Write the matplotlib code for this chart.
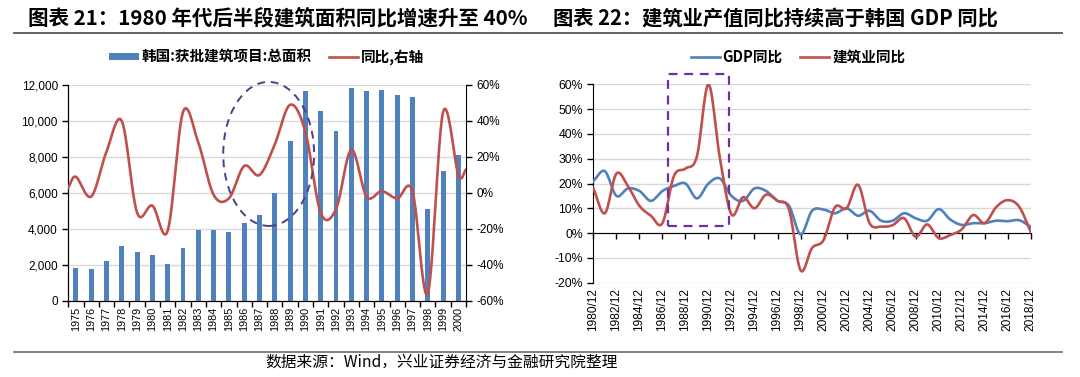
import matplotlib
matplotlib.use('Agg')
import matplotlib.pyplot as plt
import numpy as np
from matplotlib.patches import Ellipse, Rectangle
from matplotlib.ticker import FuncFormatter, MultipleLocator

plt.rcParams['font.family'] = ['Liberation Sans', 'Noto Sans CJK SC', 'DejaVu Sans']
plt.rcParams['axes.unicode_minus'] = False
CJK = ['Noto Sans CJK SC', 'DejaVu Sans']

# 左图: 韩国获批建筑项目总面积 与 同比
years_l = [str(y) for y in range(1975, 2001)]
area = [1820, 1780, 2220, 3070, 2720, 2560, 2080, 2930, 3950, 3950, 3820, 4350,
        4800, 5980, 8890, 11650, 10540, 9460, 11810, 11650, 11740, 11430, 11330,
        5110, 7240, 8110]
area_yoy = [9, -2, 23, 40, -11, -7, -21, 45, 28, -1, -3, 15, 10, 27, 49, 34,
            -11, -9, 24, -2, 1, -3, 1, -56, 45, 10]
yoy_edge = [3, 13]  # 线在两端轴线处的值

# 右图: GDP同比 与 建筑业同比
years_r = list(range(1980, 2019))
gdp_yoy = [21, 25, 15, 18, 17, 13, 17, 19, 20, 14, 20, 22, 15, 13, 18, 17, 13,
           11, -0.5, 9, 9.5, 8, 10, 7, 9, 5, 5, 8, 6, 5, 9.7, 5.5, 3.3, 4, 4,
           5, 4.8, 5.2, 2.5]
cons_yoy = [18, 8, 24, 19, 11, 7, 4, 23, 26, 31, 60, 30, 7.5, 14.5, 10, 15.5,
            13, 9.5, -15, -6, -2.8, 10.5, 10, 19.5, 4, 2.6, 3.2, 6, -1.5, 3.5,
            -2, -0.8, 1.5, 7.3, 4, 10.5, 13.3, 10.6, 0.5]

BLUE = '#4F81BD'
RED = '#C0504D'


def smooth(x, y, n=12):
    # Excel 平滑线: Catmull-Rom 曲线
    x = np.asarray(x, float)
    y = np.asarray(y, float)
    px = np.concatenate([[2 * x[0] - x[1]], x, [2 * x[-1] - x[-2]]])
    py = np.concatenate([[2 * y[0] - y[1]], y, [2 * y[-1] - y[-2]]])
    xs, ys = [], []
    t = np.linspace(0, 1, n, endpoint=False)
    for i in range(1, len(px) - 2):
        for arr, out in ((px, xs), (py, ys)):
            p0, p1, p2, p3 = arr[i - 1:i + 3]
            out.extend(0.5 * (2 * p1 + (-p0 + p2) * t
                              + (2 * p0 - 5 * p1 + 4 * p2 - p3) * t ** 2
                              + (-p0 + 3 * p1 - 3 * p2 + p3) * t ** 3))
    xs.append(x[-1])
    ys.append(y[-1])
    return np.array(xs), np.array(ys)


fig = plt.figure(figsize=(10.8, 3.77), dpi=100)

# 标题与分隔线
fig.text(28 / 1080, 1 - 18 / 377, '图表 21：1980 年代后半段建筑面积同比增速升至 40%',
         fontsize=14.8, fontweight='bold', family=CJK, va='center', ha='left')
fig.text(553 / 1080, 1 - 18 / 377, '图表 22：建筑业产值同比持续高于韩国 GDP 同比',
         fontsize=14.6, fontweight='bold', family=CJK, va='center', ha='left')
fig.add_artist(plt.Line2D([14 / 1080, 1062 / 1080], [1 - 33 / 377] * 2, color='#555555', lw=1.3))
fig.add_artist(plt.Line2D([14 / 1080, 1062 / 1080], [1 - 352 / 377] * 2, color='#777777', lw=1.3))
fig.text(265 / 1080, 1 - 362 / 377, '数据来源：Wind，兴业证券经济与金融研究院整理',
         fontsize=11.3, family=CJK, va='center', ha='left')

# ---------------- 左图 ----------------
ax1 = fig.add_axes([0.0632, 0.2016, 0.3683, 0.573])
xl = np.arange(len(years_l))
ax1.bar(xl, area, width=0.32, color=BLUE, zorder=2, label='韩国:获批建筑项目:总面积')
ax1.set_xlim(-0.5, len(years_l) - 0.5)
ax1.set_ylim(0, 12000)
ax1.yaxis.set_major_locator(MultipleLocator(2000))
ax1.yaxis.set_major_formatter(FuncFormatter(lambda v, p: f'{v:,.0f}'))
ax1.grid(axis='y', color='#D9D9D9', lw=1, zorder=0)
ax1.set_axisbelow(True)
ax1.set_xticks(xl)
ax1.set_xticklabels(years_l, rotation=90, fontsize=7.8)
ax1.set_xticks(np.arange(-0.5, len(years_l)), minor=True)
ax1.tick_params(axis='x', which='major', length=0, pad=4)
ax1.tick_params(axis='x', which='minor', length=4, direction='out', width=1)
ax1.tick_params(axis='y', labelsize=8.5, length=4, width=1, direction='out')
ax1.spines['top'].set_visible(False)
ax1.spines['right'].set_visible(False)

ax1r = ax1.twinx()
lx = np.concatenate([[-0.5], xl, [len(years_l) - 0.5]])
ly = np.concatenate([[yoy_edge[0]], area_yoy, [yoy_edge[1]]])
sx, sy = smooth(lx, ly)
ax1r.plot(sx, sy, color=RED, lw=1.9, label='同比,右轴', zorder=3)
ax1r.set_ylim(-60, 60)
ax1r.yaxis.set_major_locator(MultipleLocator(20))
ax1r.yaxis.set_major_formatter(FuncFormatter(lambda v, p: f'{v:.0f}%'))
ax1r.tick_params(axis='y', labelsize=8.5, length=4, width=1, direction='out')
ax1r.spines['top'].set_visible(False)
ax1r.add_patch(Ellipse((12.6, 8170), 5.94, 8000, transform=ax1.transData, fill=False,
                       edgecolor='#4A3F8A', lw=1.4, ls=(0, (4, 3)), clip_on=False, zorder=4))

h1, l1 = ax1.get_legend_handles_labels()
h2, l2 = ax1r.get_legend_handles_labels()
fig.legend(h1 + h2, l1 + l2, loc='center', bbox_to_anchor=(267 / 1080, 1 - 57 / 377),
           ncol=2, frameon=False, prop={'family': CJK, 'weight': 'bold', 'size': 10.5},
           handlelength=2.0, handleheight=0.35, columnspacing=1.2, handletextpad=0.2)

# ---------------- 右图 ----------------
ax2 = fig.add_axes([0.5494, 0.2501, 0.405, 0.5263])
gx, gy = smooth(years_r, gdp_yoy)
cx, cy = smooth(years_r, cons_yoy)
ax2.plot(gx, gy, color=BLUE, lw=1.9, label='GDP同比', zorder=3)
ax2.plot(cx, cy, color=RED, lw=1.9, label='建筑业同比', zorder=3)
ax2.set_xlim(1980, 2018)
ax2.set_ylim(-20, 60)
ax2.yaxis.set_major_locator(MultipleLocator(10))
ax2.yaxis.set_major_formatter(FuncFormatter(lambda v, p: f'{v:.0f}%'))
ax2.grid(axis='y', color='#D9D9D9', lw=1, zorder=0)
ax2.set_axisbelow(True)
ax2.spines['top'].set_visible(False)
ax2.spines['right'].set_visible(False)
ax2.spines['bottom'].set_position(('data', 0))
ax2.set_xticks(years_r[::2])
ax2.tick_params(axis='x', labelbottom=False, length=4, width=1, direction='out')
ax2.tick_params(axis='y', labelsize=8.8, length=4, width=1, direction='out')
sec = ax2.secondary_xaxis('bottom')
sec.set_xticks(years_r[::2])
sec.set_xticklabels([f'{y}/12' for y in years_r[::2]], rotation=90, fontsize=8.6)
sec.tick_params(length=0, pad=4)
sec.spines['bottom'].set_visible(False)
ax2.add_patch(Rectangle((1986.45, 3), 5.3, 61, fill=False, edgecolor='#7030A0',
                        lw=1.6, ls=(0, (4, 3)), clip_on=False, zorder=4))
ax2.legend(loc='center', bbox_to_anchor=(798 / 1080, 1 - 57 / 377), bbox_transform=fig.transFigure,
           ncol=2, frameon=False, prop={'family': CJK, 'weight': 'bold', 'size': 10.5},
           handlelength=2.0, columnspacing=1.2, handletextpad=0.2)

fig.savefig('out.png', dpi=100)
